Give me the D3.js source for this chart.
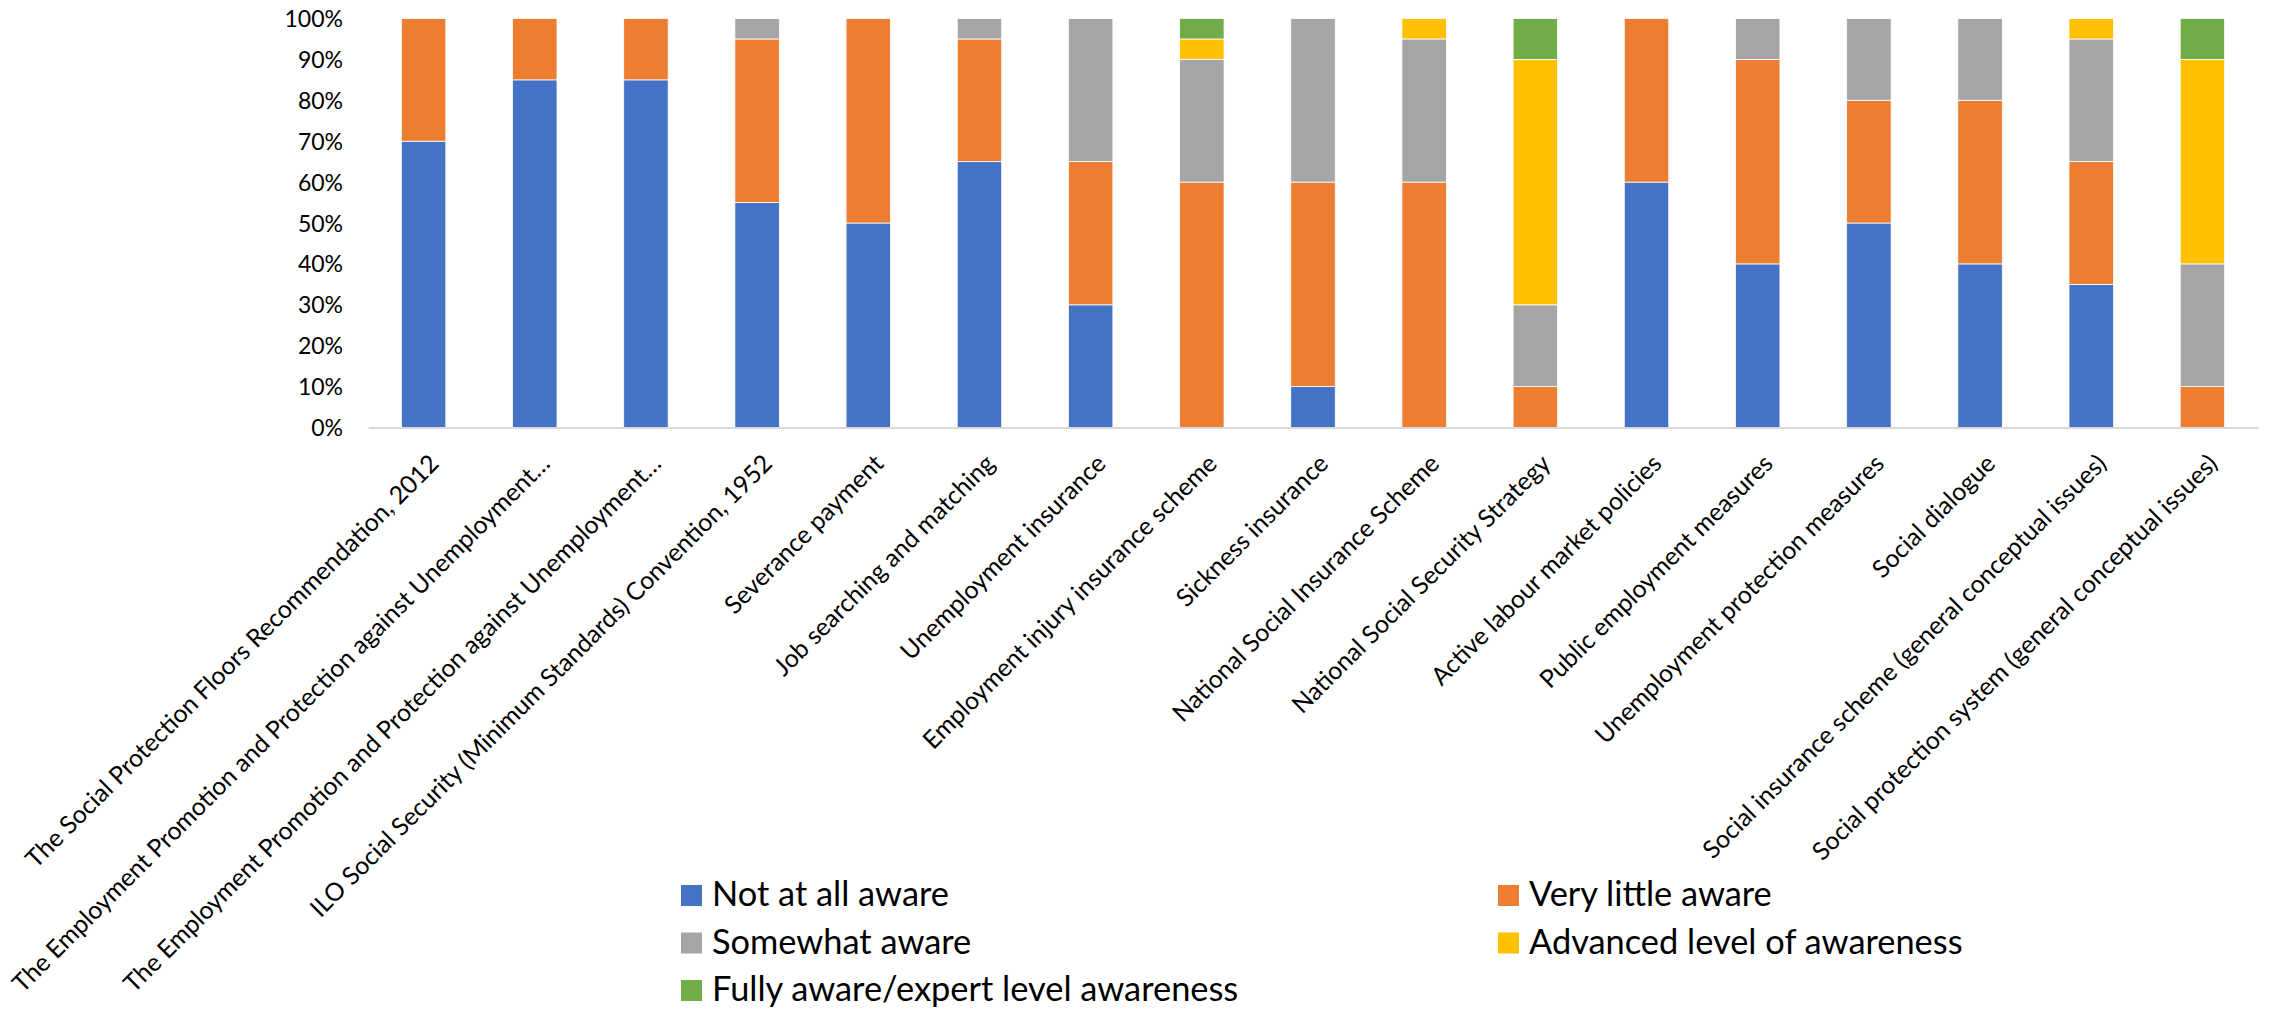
<!DOCTYPE html>
<html>
<head>
    <title>Awareness levels</title>
    <script src="https://d3js.org/d3.v7.min.js"></script>
    <style>
        body { margin: 0; background: #fff; }
        text { font-family: Lato, "Open Sans", sans-serif; fill: #000; }
    </style>
</head>
<body>
    <div id="chart"></div>

    <script>
        const categories = [
            "The Social Protection Floors Recommendation, 2012",
            "The Employment Promotion and Protection against Unemployment…",
            "The Employment Promotion and Protection against Unemployment…",
            "ILO Social Security (Minimum Standards) Convention, 1952",
            "Severance payment",
            "Job searching and matching",
            "Unemployment insurance",
            "Employment injury insurance scheme",
            "Sickness insurance",
            "National Social Insurance Scheme",
            "National Social Security Strategy",
            "Active labour market policies",
            "Public employment measures",
            "Unemployment protection measures",
            "Social dialogue",
            "Social insurance scheme (general conceptual issues)",
            "Social protection system (general conceptual issues)"
        ];

        const seriesNames = ["Not at all aware", "Very little aware", "Somewhat aware",
            "Advanced level of awareness", "Fully aware/expert level awareness"];
        const seriesColors = ["#4472C4", "#ED7D31", "#A5A5A5", "#FFC000", "#70AD47"];

        const notAtAll   = [70, 85, 85, 55, 50, 65, 30,  0, 10,  0,  0, 60, 40, 50, 40, 35,  0];
        const veryLittle = [30, 15, 15, 40, 50, 30, 35, 60, 50, 60, 10, 40, 50, 30, 40, 30, 10];
        const somewhat   = [ 0,  0,  0,  5,  0,  5, 35, 30, 40, 35, 20,  0, 10, 20, 20, 30, 30];
        const advanced   = [ 0,  0,  0,  0,  0,  0,  0,  5,  0,  5, 60,  0,  0,  0,  0,  5, 50];
        const fully      = [ 0,  0,  0,  0,  0,  0,  0,  5,  0,  0, 10,  0,  0,  0,  0,  0, 10];

        const yTicks = [0, 10, 20, 30, 40, 50, 60, 70, 80, 90, 100];

        const width = 2270, height = 1012;
        const margin = {top: 18.5, left: 368, right: 12, bottom: 584.5};

        const rows = categories.map((c, i) => ({
            key: i,
            s0: notAtAll[i], s1: veryLittle[i], s2: somewhat[i], s3: advanced[i], s4: fully[i]
        }));
        const stacked = d3.stack().keys(["s0", "s1", "s2", "s3", "s4"])(rows);

        const svg = d3.select("#chart").append("svg")
            .attr("width", width)
            .attr("height", height);

        const xScale = d3.scaleBand()
            .domain(d3.range(categories.length))
            .range([margin.left, width - margin.right])
            .paddingInner(0.6)
            .paddingOuter(0.3);

        const yScale = d3.scaleLinear()
            .domain([0, 100])
            .range([height - margin.bottom, margin.top]);

        // scale a font so one text of a selection is as wide as in the reference
        function fitFont(sel, base, target, idx) {
            sel.style("font-size", base + "px");
            const w = sel.nodes()[idx || 0].getComputedTextLength();
            const size = w > 0 ? base * target / w : base;
            sel.style("font-size", size + "px");
        }

        // bars
        svg.append("g").selectAll("g")
            .data(stacked)
            .enter().append("g")
            .attr("fill", (d, i) => seriesColors[i])
            .selectAll("rect")
            .data(d => d.filter(p => p[1] > p[0]))
            .enter().append("rect")
            .attr("x", d => xScale(d.data.key))
            .attr("y", d => yScale(d[1]))
            .attr("width", xScale.bandwidth())
            .attr("height", d => yScale(d[0]) - yScale(d[1]))
            .attr("stroke", "#fff")
            .attr("stroke-width", 0.8);

        // y axis labels (no axis line)
        const yAxis = svg.append("g")
            .attr("transform", "translate(" + (margin.left - 25) + ",0)")
            .call(d3.axisLeft(yScale).tickValues(yTicks).tickSize(0).tickFormat(d => d + "%"));
        yAxis.select(".domain").remove();
        yAxis.selectAll("text")
            .attr("x", 0)
            .attr("dy", "0.35em")
            .style("font-family", "Lato, sans-serif")
            .style("font-size", "23px");

        // x axis
        const xAxis = svg.append("g")
            .attr("transform", "translate(0," + yScale(0) + ")")
            .call(d3.axisBottom(xScale).tickSize(0).tickFormat(""));
        xAxis.select(".domain")
            .attr("stroke", "#D9D9D9")
            .attr("stroke-width", 2);

        // rotated category labels
        const catLabels = svg.append("g").selectAll("text")
            .data(categories)
            .enter().append("text")
            .attr("transform", (d, i) => "translate(" + (xScale(i) + xScale.bandwidth() / 2 + 4) + "," + (yScale(0) + 25) + ") rotate(-45)")
            .attr("text-anchor", "end")
            .attr("dy", "0.72em")
            .text(d => d);
        fitFont(catLabels, 24, 748, 1);

        // legend
        const legendPos = [[681, 885], [1498, 885], [681, 932.5], [1498, 932.5], [681, 980]];
        const legend = svg.append("g").selectAll("g")
            .data(seriesNames)
            .enter().append("g")
            .attr("transform", (d, i) => "translate(" + legendPos[i][0] + "," + legendPos[i][1] + ")");

        legend.append("rect")
            .attr("width", 21)
            .attr("height", 21)
            .attr("fill", (d, i) => seriesColors[i]);

        const legendText = legend.append("text")
            .attr("x", 31)
            .attr("y", 21)
            .text(d => d);
        fitFont(legendText, 32, 237);
    </script>
</body>
</html>
